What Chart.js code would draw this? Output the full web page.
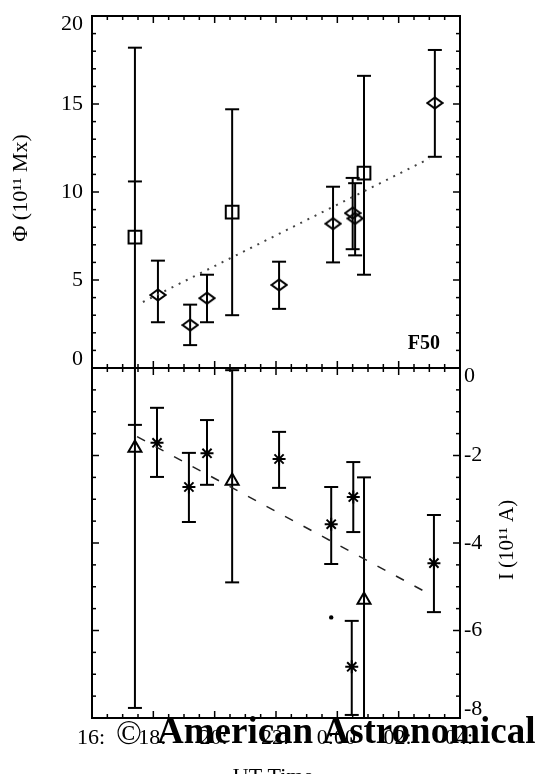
<!DOCTYPE html>
<html>
<head>
<meta charset="utf-8">
<script src="https://cdn.jsdelivr.net/npm/chart.js@4.4.1/dist/chart.umd.min.js"></script>
<style>
  html, body { margin: 0; padding: 0; background: #fff; }
  #wrap { position: relative; width: 543px; height: 774px; overflow: hidden; }
  #wrap canvas { position: absolute; left: 0; top: 0; }
</style>
</head>
<body>
<div id="wrap">
  <canvas id="fluxChart" width="543" height="774"></canvas>
  <canvas id="currChart" width="543" height="774"></canvas>
</div>
<script>
// time in hours UT, 24 = 0:00 of the next day
const timeTicks = [16, 18, 20, 22, 24, 26, 28];
const timeLabels = ['16:', '18:', '20:', '22:', '0:00', '02:', '04:'];
const phiTicks = [0, 5, 10, 15, 20];
const currTicks = [0, -2, -4, -6, -8];

// flux panel - squares
const sqX  = [17.40, 20.57, 24.87];
const sqY  = [7.44, 8.86, 11.07];
const sqLo = [-5, 3.0, 5.3];
const sqHi = [18.2, 14.7, 16.6];
const sqExtraCapX = [17.40];
const sqExtraCapY = [10.6];

// flux panel - diamonds
const dmX  = [18.15, 19.20, 19.75, 22.10, 23.86, 24.50, 24.58, 27.18];
const dmY  = [4.15, 2.44, 3.97, 4.72, 8.20, 8.80, 8.50, 15.06];
const dmLo = [2.60, 1.30, 2.60, 3.36, 6.00, 6.75, 6.40, 12.00];
const dmHi = [6.10, 3.60, 5.30, 6.04, 10.30, 10.80, 10.50, 18.07];

// flux fit (dotted)
const phiFitX = [17.66, 27.0];
const phiFitY = [3.75, 11.9];

// current panel - triangles
const trX  = [17.40, 20.57, 24.87];
const trY  = [-1.83, -2.58, -5.30];
const trLo = [-7.77, -4.90, -9];
const trHi = [0.5, -0.05, -2.50];
const trExtraCapX = [17.40];
const trExtraCapY = [-1.30];

// current panel - asterisks
const stX  = [18.12, 19.16, 19.75, 22.10, 23.80, 24.52, 24.47, 27.15];
const stY  = [-1.71, -2.72, -1.95, -2.08, -3.57, -2.95, -6.83, -4.46];
const stLo = [-2.49, -3.52, -2.67, -2.74, -4.48, -3.75, -7.93, -5.58];
const stHi = [-0.91, -1.94, -1.19, -1.46, -2.72, -2.15, -5.78, -3.36];

// current fit (dashed)
const curFitX = [17.47, 26.96];
const curFitY = [-1.57, -5.15];

// lone dot
const dotX = [23.80];
const dotY = [-5.70];

const INK = '#000';
const SERIF = '"Liberation Serif", "DejaVu Serif", serif';

const pts = (xs, ys) => xs.map((x, i) => ({x: x, y: ys[i]}));

// flattened open diamond
function diamondImg() {
    const c = document.createElement('canvas');
    c.width = 18; c.height = 14;
    const g = c.getContext('2d');
    g.strokeStyle = INK; g.lineWidth = 2;
    g.beginPath();
    g.moveTo(1.5, 7); g.lineTo(9, 1.5); g.lineTo(16.5, 7); g.lineTo(9, 12.5);
    g.closePath(); g.stroke();
    return c;
}

function stepRange(a, b, s) {
    const out = [];
    const lo = Math.min(a, b), hi = Math.max(a, b);
    for (let v = lo; v <= hi + 1e-9; v += s) out.push(Math.round(v * 1000) / 1000);
    return out;
}

// error bars, frame, ticks and text
const panelPlugin = {
    id: 'panel',
    beforeDatasetsDraw(chart, args, o) {
        const {ctx, chartArea: a, scales: {x, y}} = chart;
        ctx.save();
        ctx.beginPath();
        ctx.rect(a.left, a.top, a.right - a.left, a.bottom - a.top);
        ctx.clip();
        ctx.strokeStyle = INK;
        ctx.lineWidth = 2;
        const cap = (px, v) => {
            if (v < y.min - 1e-6 || v > y.max + 1e-6) return;
            const py = y.getPixelForValue(v);
            ctx.beginPath(); ctx.moveTo(px - 7, py); ctx.lineTo(px + 7, py); ctx.stroke();
        };
        chart.data.datasets.forEach(ds => {
            if (!ds.errLo) return;
            ds.data.forEach((p, i) => {
                const px = x.getPixelForValue(p.x);
                ctx.beginPath();
                ctx.moveTo(px, y.getPixelForValue(ds.errLo[i]));
                ctx.lineTo(px, y.getPixelForValue(ds.errHi[i]));
                ctx.stroke();
                cap(px, ds.errLo[i]);
                cap(px, ds.errHi[i]);
            });
            (ds.capX || []).forEach((cx, i) => cap(x.getPixelForValue(cx), ds.capY[i]));
        });
        ctx.restore();
    },
    afterDraw(chart, args, o) {
        const {ctx, chartArea: a, scales: {x, y}} = chart;
        ctx.save();
        ctx.strokeStyle = INK;
        ctx.fillStyle = INK;
        ctx.lineWidth = 2;
        ctx.strokeRect(a.left, a.top, a.right - a.left, a.bottom - a.top);

        // ticks, all pointing inward
        ctx.lineWidth = 1.5;
        const tick = (x1, y1, x2, y2) => { ctx.beginPath(); ctx.moveTo(x1, y1); ctx.lineTo(x2, y2); ctx.stroke(); };
        stepRange(x.min, x.max, 0.5).forEach(v => {
            const px = x.getPixelForValue(v);
            const len = timeTicks.includes(v) ? 7 : 4;
            tick(px, a.top, px, a.top + len);
            tick(px, a.bottom, px, a.bottom - len);
        });
        stepRange(y.min, y.max, o.minorStep).forEach(v => {
            const py = y.getPixelForValue(v);
            const len = o.yTicks.includes(v) ? 7 : 4;
            tick(a.left, py, a.left + len, py);
            tick(a.right, py, a.right - len, py);
        });

        // y tick labels, edge ones pulled inside the frame
        ctx.font = '22px ' + SERIF;
        ctx.textBaseline = 'middle';
        ctx.textAlign = o.labelSide === 'left' ? 'right' : 'left';
        const lx = o.labelSide === 'left' ? a.left - 9 : a.right + 4;
        o.yTicks.forEach(v => {
            let py = y.getPixelForValue(v);
            py = Math.min(Math.max(py, a.top + 8), a.bottom - 9);
            ctx.fillText(String(v), lx, py);
        });

        if (o.timeLabels) {
            ctx.font = '22px ' + SERIF;
            ctx.textAlign = 'center';
            ctx.textBaseline = 'middle';
            timeTicks.forEach((v, i) => ctx.fillText(timeLabels[i], x.getPixelForValue(v) - 1, a.bottom + 20));
        }

        (o.texts || []).forEach(t => {
            ctx.save();
            ctx.translate(t.x, t.y);
            ctx.rotate(t.rot || 0);
            ctx.font = t.font;
            ctx.textAlign = t.align || 'center';
            ctx.textBaseline = t.base || 'middle';
            ctx.fillText(t.text, 0, 0);
            ctx.restore();
        });
        ctx.restore();
    }
};

function options(pad, yMin, yMax, panel) {
    return {
        responsive: false,
        animation: false,
        events: [],
        layout: { padding: pad },
        plugins: { legend: { display: false }, tooltip: { enabled: false }, panel: panel },
        scales: {
            x: { type: 'linear', min: 16, max: 28, display: false },
            y: { type: 'linear', min: yMin, max: yMax, display: false }
        }
    };
}

const markerBase = { borderColor: INK, backgroundColor: 'rgba(0,0,0,0)', borderWidth: 2, showLine: false };

new Chart(document.getElementById('fluxChart'), {
    type: 'scatter',
    plugins: [panelPlugin],
    data: {
        datasets: [
            { data: pts(phiFitX, phiFitY), showLine: true, borderColor: '#444', borderWidth: 2,
              borderDash: [2, 6], pointRadius: 0 },
            Object.assign({ data: pts(sqX, sqY), pointStyle: 'rect', pointRadius: 9,
              errLo: sqLo, errHi: sqHi, capX: sqExtraCapX, capY: sqExtraCapY }, markerBase),
            Object.assign({ data: pts(dmX, dmY), pointStyle: diamondImg(),
              errLo: dmLo, errHi: dmHi }, markerBase)
        ]
    },
    options: options({ left: 92, right: 83, top: 16, bottom: 774 - 368 }, 0, 20, {
        yTicks: phiTicks, minorStep: 1, labelSide: 'left',
        texts: [
            { text: 'Φ (10¹¹ Mx)', x: 21, y: 188, rot: -Math.PI / 2, font: '22px ' + SERIF },
            { text: 'F50', x: 440, y: 344, align: 'right', font: 'bold 20px ' + SERIF }
        ]
    })
});

new Chart(document.getElementById('currChart'), {
    type: 'scatter',
    plugins: [panelPlugin],
    data: {
        datasets: [
            { data: pts(curFitX, curFitY), showLine: true, borderColor: '#222', borderWidth: 1.5,
              borderDash: [9, 12], pointRadius: 0 },
            Object.assign({ data: pts(trX, trY), pointStyle: 'triangle', pointRadius: 7.5,
              errLo: trLo, errHi: trHi, capX: trExtraCapX, capY: trExtraCapY }, markerBase),
            Object.assign({ data: pts(stX, stY), pointStyle: 'star', pointRadius: 6.5,
              errLo: stLo, errHi: stHi }, markerBase),
            { data: pts(dotX, dotY), pointStyle: 'circle', pointRadius: 2.2,
              backgroundColor: INK, borderColor: INK, borderWidth: 0 }
        ]
    },
    options: options({ left: 92, right: 83, top: 368, bottom: 774 - 718 }, -8, 0, {
        yTicks: currTicks, minorStep: 0.5, labelSide: 'right', timeLabels: true,
        texts: [
            { text: 'I (10¹¹ A)', x: 507, y: 540, rot: -Math.PI / 2, font: '21px ' + SERIF },
            { text: 'UT Time', x: 273, y: 766, base: 'top', font: '22px ' + SERIF },
            { text: '©', x: 116, y: 744, align: 'left', base: 'alphabetic', font: '34px ' + SERIF },
            { text: 'American Astronomical', x: 157, y: 743, align: 'left', base: 'alphabetic',
              font: 'bold 37px ' + SERIF }
        ]
    })
});
</script>
</body>
</html>
